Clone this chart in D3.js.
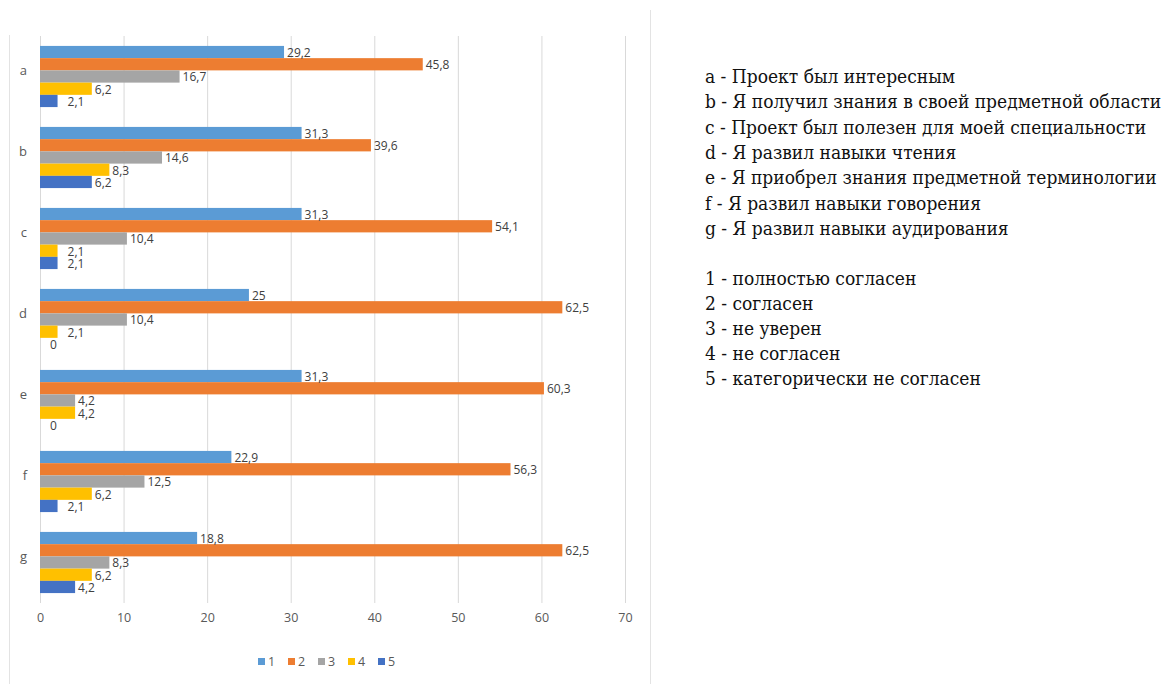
<!DOCTYPE html>
<html>
<head>
<meta charset="utf-8">
<script src="https://cdnjs.cloudflare.com/ajax/libs/d3/7.8.5/d3.min.js"></script>
<style>
  body { margin: 0; background: #fff; }
  svg { display: block; }
  .note { font-family: "DejaVu Serif", serif; font-stretch: condensed; }
</style>
</head>
<body>
<div id="chart"></div>
<script>
// data
var categories = ["a", "b", "c", "d", "e", "f", "g"];
var seriesNames = ["1", "2", "3", "4", "5"];
var seriesColors = ["#5b9bd5", "#ed7d31", "#a5a5a5", "#ffc000", "#4472c4"];
var values1 = [29.2, 31.3, 31.3, 25, 31.3, 22.9, 18.8];
var values2 = [45.8, 39.6, 54.1, 62.5, 60.3, 56.3, 62.5];
var values3 = [16.7, 14.6, 10.4, 10.4, 4.2, 12.5, 8.3];
var values4 = [6.2, 8.3, 2.1, 2.1, 4.2, 6.2, 6.2];
var values5 = [2.1, 6.2, 2.1, 0, 0, 2.1, 4.2];
var xTicks = [0, 10, 20, 30, 40, 50, 60, 70];
var questionLines = [
    "a - Проект был интересным",
    "b - Я получил знания в своей предметной области",
    "c - Проект был полезен для моей специальности",
    "d - Я развил навыки чтения",
    "e - Я приобрел знания предметной терминологии",
    "f - Я развил навыки говорения",
    "g - Я развил навыки аудирования"
];
var answerLines = [
    "1 - полностью согласен",
    "2 - согласен",
    "3 - не уверен",
    "4 - не согласен",
    "5 - категорически не согласен"
];

var allSeries = [values1, values2, values3, values4, values5];
var rows = [];
categories.forEach(function (c, i) {
    allSeries.forEach(function (s, j) {
        rows.push({cat: c, series: seriesNames[j], color: seriesColors[j], value: s[i]});
    });
});

var width = 1176, height = 684;
var svg = d3.select("#chart").append("svg")
    .attr("width", width)
    .attr("height", height);

var xScale = d3.scaleLinear().domain([0, 70]).range([40, 625]);
var yScale = d3.scaleBand().domain(categories).range([36, 603])
    .paddingInner(0.245).paddingOuter(0.1225);
var ySub = d3.scaleBand().domain(seriesNames).range([0, yScale.bandwidth()]);

// chart frame remains
svg.append("line").attr("x1", 9.5).attr("x2", 9.5).attr("y1", 35).attr("y2", height)
    .style("stroke", "#e3e3e3");
svg.append("line").attr("x1", 650.5).attr("x2", 650.5).attr("y1", 10).attr("y2", height)
    .style("stroke", "#e3e3e3");

// grid + x axis labels
var xAxis = d3.axisBottom(xScale)
    .tickValues(xTicks)
    .tickSize(-(603 - 36))
    .tickPadding(10);

var gx = svg.append("g")
    .attr("transform", "translate(0,603)")
    .call(xAxis);
gx.select(".domain").remove();
gx.selectAll(".tick line").style("stroke", "#d9d9d9");
gx.selectAll(".tick text")
    .style("font-family", "'Open Sans', sans-serif")
    .style("font-size", "12.5px")
    .style("fill", "#595959");

// category labels
var yAxis = d3.axisLeft(yScale).tickSize(0).tickPadding(13);
var gy = svg.append("g")
    .attr("transform", "translate(40,0)")
    .call(yAxis);
gy.select(".domain").remove();
gy.selectAll(".tick text")
    .attr("dy", "-0.1em")
    .style("font-family", "'Open Sans', sans-serif")
    .style("font-size", "13px")
    .style("fill", "#595959");

// bars
var barG = svg.append("g");
barG.selectAll("rect")
    .data(rows)
    .join("rect")
    .attr("x", xScale(0))
    .attr("y", function (d) { return yScale(d.cat) + ySub(d.series); })
    .attr("width", function (d) { return xScale(d.value) - xScale(0); })
    .attr("height", ySub.bandwidth())
    .style("fill", function (d) { return d.color; });

// value labels
barG.selectAll("text")
    .data(rows)
    .join("text")
    .attr("x", function (d) { return xScale(d.value) + (d.value < 3 ? 10 : 3); })
    .attr("y", function (d) { return yScale(d.cat) + ySub(d.series) + ySub.bandwidth() / 2 + 1; })
    .attr("dy", "0.33em")
    .style("font-family", "'Open Sans', sans-serif")
    .style("font-size", "12px")
    .style("fill", "#404040")
    .text(function (d) { return String(d.value).replace(".", ","); });

// legend
var legend = svg.append("g").attr("transform", "translate(258,662)");
var item = legend.selectAll("g")
    .data(seriesNames)
    .join("g")
    .attr("transform", function (d, i) { return "translate(" + (i * 30) + ",0)"; });
item.append("rect")
    .attr("x", 0).attr("y", -4)
    .attr("width", 7).attr("height", 7)
    .style("fill", function (d, i) { return seriesColors[i]; });
item.append("text")
    .attr("x", 10).attr("y", 0)
    .attr("dy", "0.35em")
    .style("font-family", "'Open Sans', sans-serif")
    .style("font-size", "12.5px")
    .style("fill", "#595959")
    .text(function (d) { return d; });

// explanation text on the right
var notes = svg.append("g");
var qText = notes.selectAll("text.q")
    .data(questionLines)
    .join("text")
    .attr("class", "note q")
    .attr("x", 705)
    .attr("y", function (d, i) { return 83 + i * 25.3; })
    .style("font-size", "18px")
    .style("fill", "#111")
    .text(function (d) { return d; });
var aText = notes.selectAll("text.ans")
    .data(answerLines)
    .join("text")
    .attr("class", "note ans")
    .attr("x", 705)
    .attr("y", function (d, i) { return 285 + i * 25.1; })
    .style("font-size", "18px")
    .style("fill", "#111")
    .text(function (d) { return d; });

// fit the widest line to the width it has in the picture
var longest = qText.nodes()[1].getComputedTextLength();
var fs = Math.min(19, 18 * 464 / longest);
qText.style("font-size", fs + "px");
aText.style("font-size", fs + "px");
</script>
</body>
</html>
